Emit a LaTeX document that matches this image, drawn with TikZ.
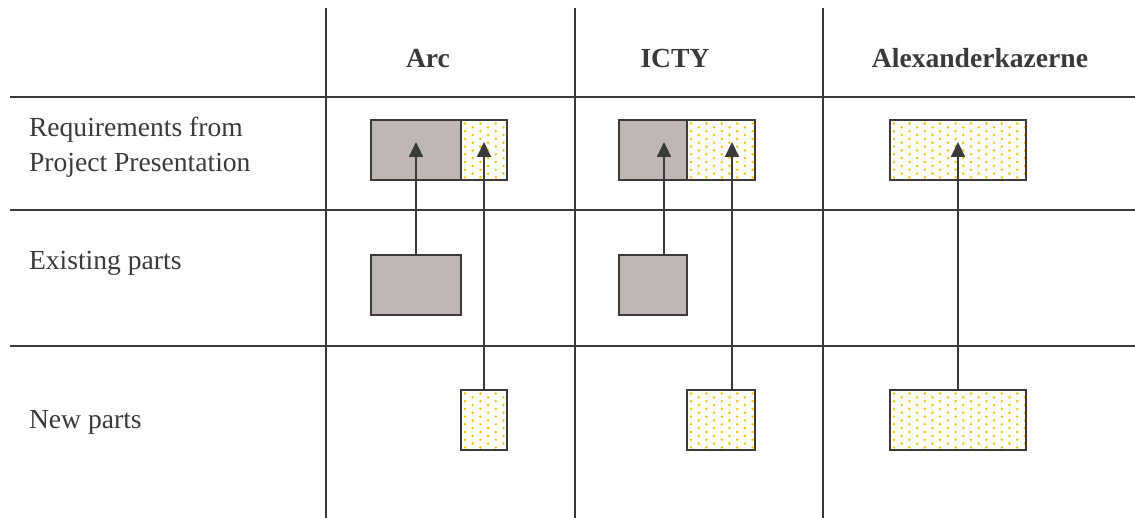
\documentclass[tikz,border=0pt]{standalone}
\usepackage{fontspec}
\setmainfont{Liberation Serif}
\usetikzlibrary{arrows.meta,calc}

\definecolor{lineGray}{HTML}{3A3A3A}
\definecolor{partGray}{HTML}{C0B7B4}
\definecolor{dotYellow}{HTML}{F5C000}

%staggered yellow dots inside a new part, then its border again
\newcommand{\newdots}[1]{%
	\begin{scope}
		\clip (#1.south west) rectangle (#1.north east);
		\foreach \i in {0,...,9} \foreach \j in {0,...,16}
			\fill[dotYellow] ($(#1.north west)+({4+15.4*\i+7.7*mod(\j,2)},{3.5+3.85*\j})$) circle (1.35);
	\end{scope}
	\draw[line width=1.3pt] (#1.south west) rectangle (#1.north east);}

\begin{document}
\begin{tikzpicture}[x=0.5pt,y=-0.5pt,line width=1pt,color=lineGray,
	font=\fontsize{13.8}{17.5}\selectfont,
	oldpart/.style={draw,fill=partGray,line width=1.3pt,inner sep=0pt,outer sep=0pt,minimum height=30pt},
	newpart/.style={fill=white,inner sep=0pt,outer sep=0pt,minimum height=30pt},
	arr/.style={-{Triangle[width=7pt,length=7.5pt]}}]
	\useasboundingbox (0,0) rectangle (1135,518);
	
	%grid
	\draw (326,8) -- (326,518);
	\draw (575,8) -- (575,518);
	\draw (823,8) -- (823,518);
	\draw (10,97) -- (1135,97);
	\draw (10,210) -- (1135,210);
	\draw (10,346) -- (1135,346);
	
	%headers
	\node[anchor=base] (hArc) at (428,68) {\bfseries Arc};
	\node[anchor=base] (hIcty) at (675,68) {\bfseries ICTY};
	\node[anchor=base] (hAlex) at (980,68) {\bfseries Alexanderkazerne};
	
	%row labels
	\node[anchor=north west,inner sep=0pt,align=left] (lReq) at (28,116) {Requirements from\\Project Presentation};
	\node[anchor=base west,inner sep=0pt] (lEx) at (28,270) {Existing parts};
	\node[anchor=base west,inner sep=0pt] (lNew) at (28,428) {New parts};
	
	%Arc--------------------------------------
		\node[oldpart,minimum width=45pt] (reqArcOld) at (416,150) {};
		\node[newpart,minimum width=23pt] (reqArcNew) at (484,150) {}; \newdots{reqArcNew}
		\node[oldpart,minimum width=45pt] (exArc) at (416,285) {};
		\node[newpart,minimum width=23pt] (newArc) at (484,420) {}; \newdots{newArc}
		\coordinate (tipArcOld) at (416,142);
		\coordinate (tipArcNew) at (484,142);
		\draw[arr] (tipArcOld |- exArc.north) -- (tipArcOld);
		\draw[arr] (tipArcNew |- newArc.north) -- (tipArcNew);
	
	%ICTY-------------------------------------
		\node[oldpart,minimum width=34pt] (reqIctyOld) at (653,150) {};
		\node[newpart,minimum width=34pt] (reqIctyNew) at (721,150) {}; \newdots{reqIctyNew}
		\node[oldpart,minimum width=34pt] (exIcty) at (653,285) {};
		\node[newpart,minimum width=34pt] (newIcty) at (721,420) {}; \newdots{newIcty}
		\coordinate (tipIctyOld) at (664,142);
		\coordinate (tipIctyNew) at (732,142);
		\draw[arr] (tipIctyOld |- exIcty.north) -- (tipIctyOld);
		\draw[arr] (tipIctyNew |- newIcty.north) -- (tipIctyNew);
	
	%Alexanderkazerne-------------------------
		\node[newpart,minimum width=68pt] (reqAlex) at (958,150) {}; \newdots{reqAlex}
		\node[newpart,minimum width=68pt] (newAlex) at (958,420) {}; \newdots{newAlex}
		\coordinate (tipAlex) at (958,142);
		\draw[arr] (newAlex.north) -- (tipAlex);
\end{tikzpicture}
\end{document}
